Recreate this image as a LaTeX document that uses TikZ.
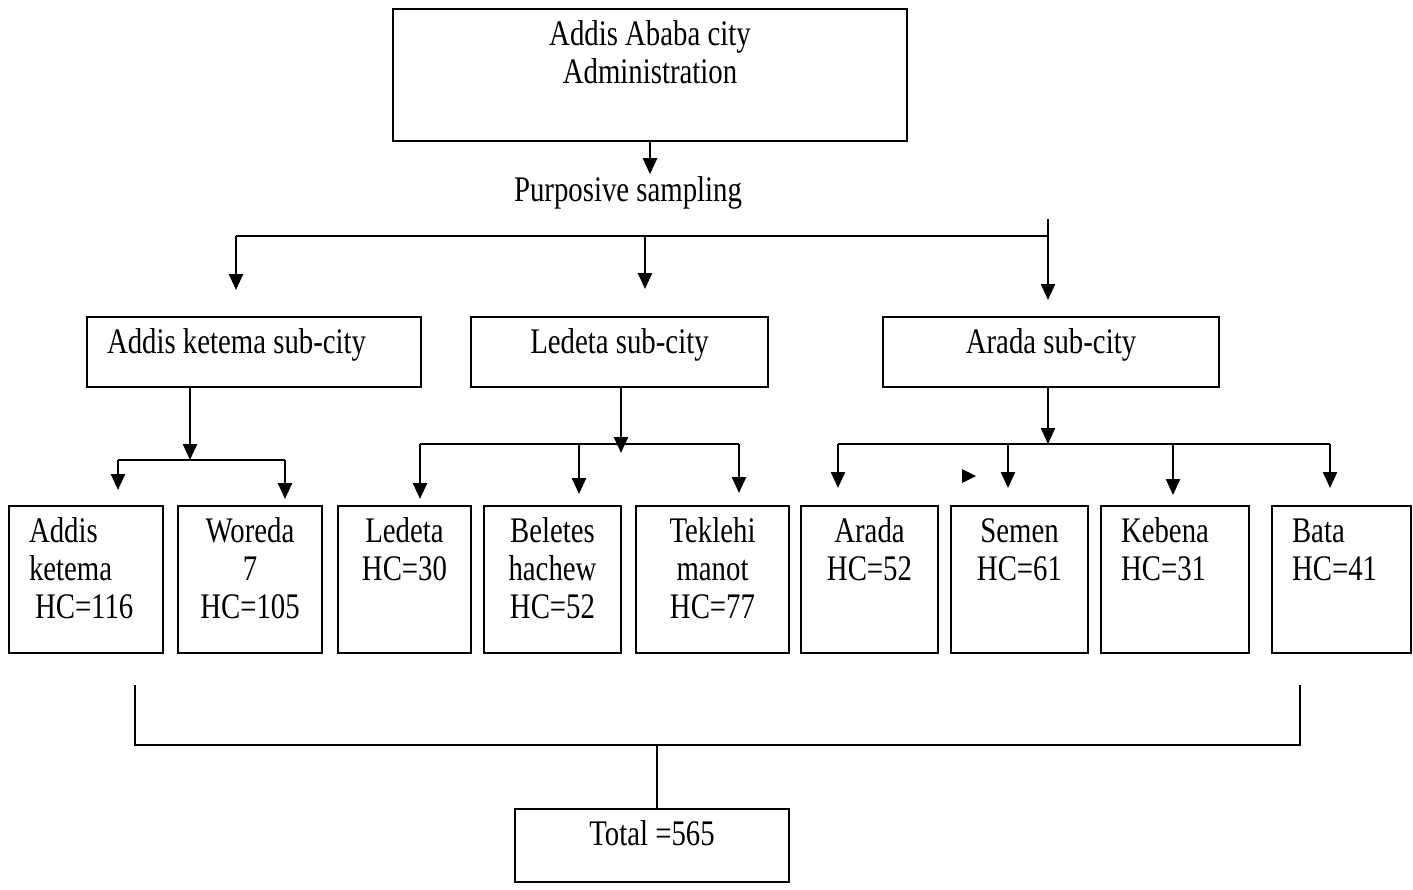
\documentclass[tikz,border=0pt]{standalone}
\usepackage{fontspec}
\setmainfont{Liberation Serif}[FakeStretch=0.8]
\usetikzlibrary{arrows.meta,calc,positioning}
\tikzset{
  box/.style    = {draw, line width=1pt, anchor=north west, inner xsep=10pt,
                   inner ysep=6pt, text height=12pt, align=flush center},
  subbox/.style = {box, text depth=11pt},
  hcbox/.style  = {box, text depth=49.5pt},
  wire/.style   = {line width=1pt},
  arr/.style    = {-{Triangle[length=8pt,width=7pt]}, line width=1.2pt},
}

\begin{document}
\begin{tikzpicture}[x=0.5pt,y=-0.5pt,font=\fontsize{18}{19}\selectfont]
  \useasboundingbox (0,0) rectangle (1413,889);
  % city and sub-cities
  \node[box, text width=237pt, text depth=42pt] (city) at (392,8) {Addis Ababa city\\Administration};
  \node[inner sep=1pt] (samp) at (628,193) {Purposive sampling};
  \node[subbox, text width=147pt, align=flush left] (akSub) at (86,316) {Addis ketema sub-city};
  \node[subbox, text width=128.5pt] (ledSub) at (470,316) {Ledeta sub-city};
  \node[subbox, text width=148pt] (araSub) at (882,316) {Arada sub-city};
  % woredas
  \node[hcbox, text width=57pt, align=flush left] (ak) at (8,505) {Addis\\ketema\\\hspace*{3pt}HC=116};
  \node[hcbox, text width=52pt] (wor) at (177,505) {Woreda\\7\\HC=105};
  \node[hcbox, text width=46.5pt] (led) at (337,505) {Ledeta\\HC=30};
  \node[hcbox, text width=48.5pt] (bel) at (483,505) {Beletes\\hachew\\HC=52};
  \node[hcbox, text width=56.5pt] (tek) at (635,505) {Teklehi\\manot\\HC=77};
  \node[hcbox, text width=48.5pt] (ara) at (800,505) {Arada\\HC=52};
  \node[hcbox, text width=48.5pt] (sem) at (950,505) {Semen\\HC=61};
  \node[hcbox, text width=54pt, align=flush left] (keb) at (1100,505) {Kebena\\HC=31};
  \node[hcbox, text width=49.5pt, align=flush left] (bat) at (1271,505) {Bata\\HC=41};
  \node[box, text width=117pt, text depth=12.5pt] (tot) at (514,808) {Total =565};

  % top split
  \draw[arr] (city.south) -- (city.south |- samp.north);
  \coordinate (barR) at (1048,219);
  \coordinate (barL) at (236,236);
  \coordinate (barM) at (645,236);
  \draw[wire] (barR) -- (barR |- barL) -- (barL);
  \draw[arr, shorten >=13pt] (barL) -- (barL |- akSub.north);
  \draw[arr, shorten >=13.5pt] (barM) -- (barM |- ledSub.north);
  \draw[arr, shorten >=8pt] (barR |- barL) -- (barR |- araSub.north);

  % Addis ketema
  \coordinate (akJ) at (190,460);
  \coordinate (akL) at (118,460);
  \coordinate (akR) at (285,460);
  \draw[arr] (akSub.south -| akJ) -- (akJ);
  \draw[wire] (akL) -- (akR);
  \draw[arr, shorten >=7.5pt] (akL) -- (akL |- ak.north);
  \draw[arr, shorten >=3pt] (akR) -- (akR |- wor.north);

  % Ledeta
  \coordinate (ledJ) at (621,453);
  \coordinate (ledL) at (420,444);
  \coordinate (ledM) at (579,444);
  \coordinate (ledR) at (739,444);
  \draw[arr] (ledSub.south -| ledJ) -- (ledJ);
  \draw[wire] (ledL) -- (ledR);
  \draw[arr, shorten >=3pt] (ledL) -- (ledL |- led.north);
  \draw[arr, shorten >=5.5pt] (ledM) -- (ledM |- bel.north);
  \draw[arr, shorten >=6pt] (ledR) -- (ledR |- tek.north);

  % Arada
  \coordinate (araJ) at (1048,444);
  \coordinate (araL) at (838,444);
  \coordinate (araA) at (1008,444);
  \coordinate (araB) at (1173,444);
  \coordinate (araR) at (1330,444);
  \draw[arr] (araSub.south -| araJ) -- (araJ);
  \draw[wire] (araL) -- (araR);
  \draw[arr, shorten >=8.5pt] (araL) -- (araL |- ara.north);
  \draw[arr, shorten >=8.5pt] (araA) -- (araA |- sem.north);
  \draw[arr, shorten >=5pt] (araB) -- (araB |- keb.north);
  \draw[arr, shorten >=8.5pt] (araR) -- (araR |- bat.north);
  \fill (962,469) -- (976,476) -- (962,483) -- cycle;

  % total
  \coordinate (sumL) at (135,685);
  \coordinate (sumR) at (1300,685);
  \coordinate (sumM) at (657,745);
  \draw[wire] (sumL) -- (sumL |- sumM) -- (sumR |- sumM) -- (sumR);
  \draw[wire] (sumM) -- (sumM |- tot.north);
\end{tikzpicture}
\end{document}
